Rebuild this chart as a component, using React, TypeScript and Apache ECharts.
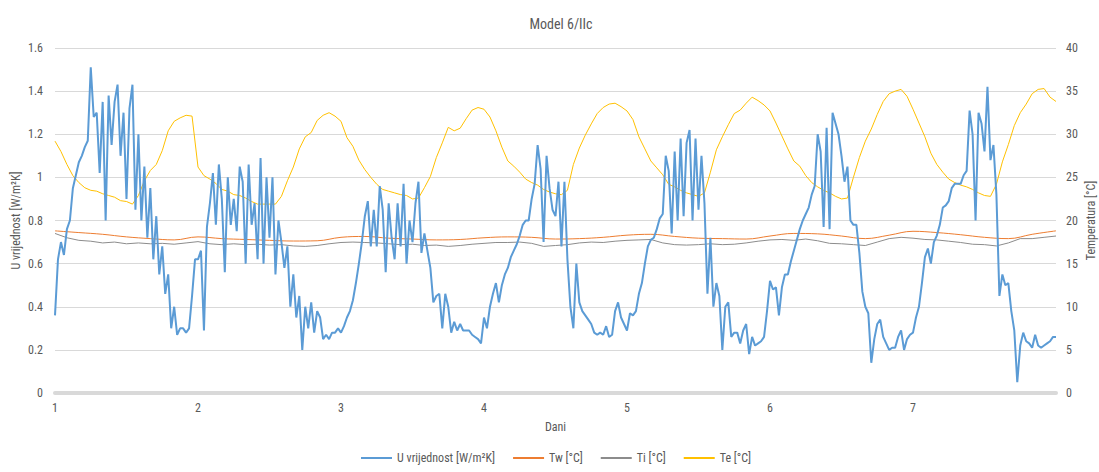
import { useEffect, useRef } from "react";
import * as echarts from "echarts";

const chartTitle = "Model 6/IIc";
const xAxisName = "Dani";
const leftAxisName = "U vrijednost [W/m²K]";
const rightAxisName = "Temperatura [°C]";
const seriesNames = ["U vrijednost [W/m²K]", "Tw [°C]", "Ti [°C]", "Te [°C]"];

// U value, 30-minute samples (48 per day)
const uDay1 = [0.36,0.62,0.70,0.64,0.76,0.80,0.95,1.01,1.07,1.10,1.14,1.17,1.51,1.28,1.30,1.02,1.35,0.80,1.38,1.15,1.35,1.43,1.10,1.30,0.90,1.32,1.43,0.85,1.20,0.80,1.05,0.72,0.95,0.62,0.82,0.55,0.68,0.46,0.55,0.30,0.40,0.27,0.30,0.30,0.28,0.30,0.45,0.62];
const uDay2 = [0.62,0.66,0.29,0.77,0.88,1.02,0.78,1.06,0.90,0.56,1.00,0.78,0.90,0.75,1.05,0.98,0.60,1.06,0.78,0.88,0.62,1.09,0.60,1.00,0.72,1.00,0.55,0.80,0.70,0.58,0.68,0.40,0.55,0.35,0.45,0.20,0.40,0.30,0.42,0.28,0.38,0.35,0.25,0.27,0.25,0.28,0.28,0.30];
const uDay3 = [0.28,0.31,0.35,0.38,0.43,0.51,0.60,0.70,0.82,0.89,0.68,0.85,0.68,0.96,0.85,0.56,0.88,0.72,0.62,0.88,0.68,0.97,0.60,0.80,0.70,0.88,0.98,0.65,0.74,0.66,0.58,0.42,0.45,0.46,0.30,0.46,0.40,0.28,0.33,0.29,0.32,0.29,0.29,0.29,0.27,0.26,0.25,0.23];
const uDay4 = [0.35,0.30,0.40,0.46,0.51,0.42,0.50,0.55,0.58,0.63,0.66,0.69,0.73,0.78,0.80,0.80,0.90,0.97,1.15,1.04,0.70,1.10,0.95,0.85,0.82,0.98,0.68,0.98,0.62,0.40,0.30,0.60,0.42,0.38,0.36,0.34,0.32,0.28,0.27,0.28,0.27,0.31,0.26,0.27,0.38,0.42,0.35,0.32];
const uDay5 = [0.29,0.37,0.36,0.38,0.46,0.51,0.60,0.68,0.71,0.72,0.76,0.81,0.83,1.10,1.03,0.74,1.12,0.80,1.18,0.82,1.16,1.22,0.80,1.18,0.85,1.10,0.88,0.46,0.72,0.40,0.51,0.45,0.20,0.40,0.42,0.26,0.28,0.28,0.23,0.29,0.32,0.18,0.26,0.22,0.23,0.24,0.26,0.38];
const uDay6 = [0.52,0.48,0.49,0.36,0.49,0.55,0.55,0.61,0.66,0.71,0.76,0.80,0.83,0.86,0.92,0.96,1.20,1.12,0.77,1.23,0.76,1.30,1.25,1.20,1.10,0.98,1.05,0.80,0.78,0.78,0.65,0.47,0.40,0.37,0.14,0.25,0.32,0.34,0.26,0.23,0.20,0.21,0.21,0.26,0.29,0.20,0.25,0.27];
const uDay7 = [0.28,0.35,0.40,0.51,0.63,0.67,0.60,0.70,0.73,0.78,0.86,0.87,0.89,0.95,0.97,0.97,0.97,1.01,1.03,1.31,1.20,0.80,1.30,1.25,1.12,1.42,1.08,1.15,0.92,0.45,0.55,0.50,0.51,0.38,0.29,0.05,0.22,0.28,0.24,0.23,0.21,0.27,0.22,0.21,0.22,0.23,0.24,0.26];
const uLast = [0.26];

// Te, hourly samples (24 per day)
const teDay1 = [29.2,28.0,26.5,25.2,24.4,23.8,23.5,23.4,23.1,22.9,22.7,22.3,22.2,21.9,22.9,24.6,25.8,26.5,28.1,30.4,31.5,31.9,32.2,32.1];
const teDay2 = [26.2,25.2,24.8,24.3,23.6,23.4,23.0,22.9,22.6,22.2,21.9,21.9,21.9,21.9,22.8,24.6,26.2,28.3,29.7,30.2,31.6,32.2,32.5,32.1];
const teDay3 = [31.5,29.6,28.6,27.0,25.9,25.0,24.2,23.6,23.4,23.2,23.0,22.9,22.5,22.6,23.8,25.1,27.3,29.0,30.8,30.4,30.7,31.8,32.8,33.1];
const teDay4 = [32.9,32.0,30.4,28.5,26.9,26.3,25.6,24.8,24.4,24.1,23.6,23.3,23.1,23.0,23.5,26.5,28.4,29.9,31.2,32.4,33.1,33.5,33.6,33.2];
const teDay5 = [32.7,31.7,29.7,28.3,26.9,26.1,25.3,24.2,23.9,23.5,23.2,23.0,22.8,23.2,25.6,28.2,29.7,31.1,32.4,32.8,33.6,34.3,33.9,33.4];
const teDay6 = [32.7,31.3,29.8,28.3,26.9,26.3,25.2,24.4,23.9,23.5,23.2,22.8,22.5,22.6,25.0,27.3,29.2,30.6,32.3,33.8,34.7,35.0,35.2,34.4];
const teDay7 = [32.9,31.3,29.7,27.8,26.5,25.6,24.8,24.4,24.1,23.9,23.6,23.2,22.9,22.8,24.2,26.8,28.8,31.0,32.5,33.5,34.7,35.2,35.3,34.3];
const teLast = [33.8];

// Ti, 2-hour samples (12 per day)
const tiValues = [
  18.5,18.0,17.7,17.6,17.4,17.5,17.3,17.4,17.3,17.35,17.25,17.4,
  17.55,17.3,17.2,17.3,17.2,17.25,17.15,17.2,17.05,17.0,17.1,17.3,
  17.45,17.5,17.45,17.4,17.3,17.2,17.25,17.1,17.15,17.0,17.1,17.25,
  17.35,17.45,17.45,17.5,17.35,17.0,17.1,17.2,17.4,17.5,17.45,17.6,
  17.7,17.75,17.8,17.4,17.2,17.15,17.2,17.3,17.2,17.25,17.4,17.6,
  17.75,17.8,17.7,17.85,17.65,17.35,17.3,17.2,17.1,17.5,17.9,18.05,
  17.95,17.8,17.75,17.6,17.45,17.25,17.2,17.05,17.4,17.9,17.9,18.05,
  18.2,
];

// Tw, 4-hour samples (6 per day)
const twValues = [
  18.8,18.6,18.4,18.1,17.9,17.75,
  18.1,17.9,17.8,17.7,17.62,17.65,
  18.05,18.15,17.95,17.85,17.75,17.8,
  18.0,18.1,18.05,17.85,17.9,18.05,
  18.3,18.4,18.15,17.95,17.9,17.85,
  18.2,18.5,18.45,18.2,17.9,18.3,
  18.75,18.6,18.35,18.05,17.9,18.4,
  18.8,
];

const uValues = [...uDay1, ...uDay2, ...uDay3, ...uDay4, ...uDay5, ...uDay6, ...uDay7, ...uLast];
const teValues = [...teDay1, ...teDay2, ...teDay3, ...teDay4, ...teDay5, ...teDay6, ...teDay7, ...teLast];

const toPairs = (values: number[], perDay: number) => values.map((v, i) => [1 + i / perDay, v]);

const FONT = "'Liberation Sans Narrow', 'Roboto Condensed', 'Arial Narrow', 'Liberation Sans', sans-serif";
const TXT = "#595959";
const FS = 12;

export default function App() {
  const ref = useRef<HTMLDivElement>(null);
  useEffect(() => {
    if (!ref.current) return;
    const chart = echarts.init(ref.current, undefined, { renderer: "svg" });
    chart.setOption({
      animation: false,
      backgroundColor: "#ffffff",
      textStyle: { fontFamily: FONT },
      title: {
        text: chartTitle,
        left: 556,
        top: 12,
        textAlign: "center",
        textStyle: { fontSize: 14, fontWeight: "normal", color: TXT, fontFamily: FONT },
      },
      grid: { left: 55, right: 43, top: 48, bottom: 79, outerBoundsMode: "none", containLabel: false },
      legend: {
        data: seriesNames,
        left: 361,
        top: 452,
        padding: 0,
        icon: "rect",
        itemWidth: 31,
        itemHeight: 2,
        itemGap: 18,
        textStyle: { fontSize: FS, color: TXT, fontFamily: FONT },
      },
      xAxis: {
        type: "value",
        min: 1,
        max: 8,
        interval: 1,
        offset: 3,
        name: xAxisName,
        nameLocation: "middle",
        nameGap: 25,
        nameMoveOverlap: false,
        nameTextStyle: { fontSize: FS, color: TXT, fontFamily: FONT },
        axisLine: { show: true, lineStyle: { color: "#d9d9d9", width: 4 } },
        axisTick: { show: false },
        splitLine: { show: false },
        axisLabel: {
          margin: 6,
          fontSize: FS,
          color: TXT,
          fontFamily: FONT,
          formatter: (v: number) => (v >= 8 ? "" : String(v)),
        },
      },
      yAxis: [
        {
          type: "value",
          min: 0,
          max: 1.6,
          interval: 0.2,
          name: leftAxisName,
          nameLocation: "middle",
          nameRotate: 90,
          nameGap: 33,
          nameMoveOverlap: false,
          nameTextStyle: { fontSize: FS, color: TXT, fontFamily: FONT },
          axisLine: { show: false },
          axisTick: { show: false },
          splitLine: { lineStyle: { color: "#d9d9d9", width: 1 } },
          axisLabel: { margin: 12, fontSize: FS, color: TXT, fontFamily: FONT },
        },
        {
          type: "value",
          min: 0,
          max: 40,
          interval: 5,
          position: "right",
          name: rightAxisName,
          nameLocation: "middle",
          nameRotate: 90,
          nameGap: 29,
          nameMoveOverlap: false,
          nameTextStyle: { fontSize: FS, color: TXT, fontFamily: FONT },
          axisLine: { show: false },
          axisTick: { show: false },
          splitLine: { show: false },
          axisLabel: { margin: 10, fontSize: FS, color: TXT, fontFamily: FONT },
        },
      ],
      series: [
        {
          name: seriesNames[0],
          type: "line",
          yAxisIndex: 0,
          data: toPairs(uValues, 48),
          symbol: "none",
          z: 5,
          lineStyle: { color: "#5B9BD5", width: 2 },
          itemStyle: { color: "#5B9BD5" },
        },
        {
          name: seriesNames[1],
          type: "line",
          yAxisIndex: 1,
          data: toPairs(twValues, 6),
          symbol: "none",
          smooth: 0.4,
          z: 3,
          lineStyle: { color: "#ED7D31", width: 1 },
          itemStyle: { color: "#ED7D31" },
        },
        {
          name: seriesNames[2],
          type: "line",
          yAxisIndex: 1,
          data: toPairs(tiValues, 12),
          symbol: "none",
          z: 3,
          lineStyle: { color: "#8C8C8C", width: 1 },
          itemStyle: { color: "#8C8C8C" },
        },
        {
          name: seriesNames[3],
          type: "line",
          yAxisIndex: 1,
          data: toPairs(teValues, 24),
          symbol: "none",
          z: 3,
          lineStyle: { color: "#FFC000", width: 1 },
          itemStyle: { color: "#FFC000" },
        },
      ],
    });
    return () => chart.dispose();
  }, []);
  return (
    <div
      ref={ref}
      style={{ position: "fixed", left: 0, top: 0, width: 1099, height: 472, background: "#fff" }}
    />
  );
}
